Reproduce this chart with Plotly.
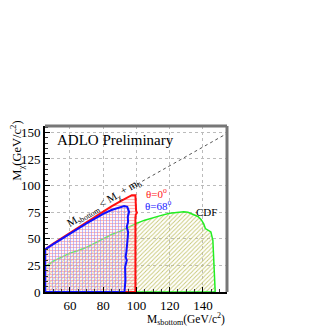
import plotly.graph_objects as go

# CDF excluded region (green)
cdf_x = [45, 45, 50, 55, 60, 65, 70, 75, 80, 85, 90, 95, 100, 105, 110, 115, 120, 125, 128.5, 131, 134.3, 137, 139, 140.5, 141.5, 144.8, 146, 146.4, 147.4, 45]
cdf_y = [0, 23.5, 29, 33, 36.5, 39, 42, 46, 50, 54, 57, 61, 64.5, 67.5, 70, 72, 74, 75.2, 75.4, 75, 73.1, 71, 68, 64, 59.6, 56.4, 48.6, 29.8, 0, 0]

# ALEPH/DELPHI/L3/OPAL combined, theta = 0 deg (red)
red_x = [45, 45, 50, 55, 60, 65, 70, 75, 80, 85, 90, 94, 97.2, 99.4, 99.4, 99.8, 100.3, 99.6, 99.4, 99.4, 45]
red_y = [0, 40, 45.5, 50.5, 56, 61, 66, 71, 76, 80.5, 85, 88.5, 91, 91, 78, 76.5, 74.5, 72.5, 70, 0, 0]

# theta = 68 deg (blue)
blue_x = [45, 45, 50, 55, 60, 65, 70, 75, 80, 85, 90, 92.6, 94.5, 95.6, 94.8, 95.0, 94.2, 95.0, 94.8, 94.5, 94.0, 93.5, 94.2, 93.2, 93.4, 92.8, 45]
blue_y = [0, 40, 45, 50, 55, 60, 64.5, 69, 73.5, 77, 79.5, 80.8, 80, 75.3, 70.6, 65.9, 61.2, 56.4, 51.7, 45, 38, 33, 29.8, 23.5, 11, 0, 0]

# kinematic limit line
kin_x = [97.2, 154.5]
kin_y = [98.5, 149]

x_ticks = [60, 80, 100, 120, 140]
y_ticks = [0, 25, 50, 75, 100, 125, 150]

SERIF = "Liberation Serif, Times New Roman, serif"

fig = go.Figure()

fig.add_trace(go.Scatter(
    x=cdf_x, y=cdf_y, mode="lines", fill="toself",
    line=dict(color="#22ee22", width=1.5),
    fillcolor="rgba(0,0,0,0)",
    fillpattern=dict(shape="/", fgcolor="#c8c878", bgcolor="rgba(0,0,0,0)",
                     size=3, solidity=0.3, fillmode="replace"),
    hoverinfo="skip", showlegend=False))

fig.add_trace(go.Scatter(
    x=red_x, y=red_y, mode="lines", fill="toself",
    line=dict(color="#ff1010", width=2),
    fillcolor="rgba(0,0,0,0)",
    fillpattern=dict(shape="-", fgcolor="#ff8c8c", bgcolor="rgba(255,228,228,0.35)",
                     size=3, solidity=0.2, fillmode="replace"),
    hoverinfo="skip", showlegend=False))

fig.add_trace(go.Scatter(
    x=blue_x, y=blue_y, mode="lines", fill="toself",
    line=dict(color="#1010ff", width=2),
    fillcolor="rgba(0,0,0,0)",
    fillpattern=dict(shape="|", fgcolor="#9090ff", bgcolor="rgba(0,0,0,0)",
                     size=3, solidity=0.2, fillmode="replace"),
    hoverinfo="skip", showlegend=False))

fig.add_trace(go.Scatter(
    x=kin_x, y=kin_y, mode="lines",
    line=dict(color="#555555", width=1, dash="dot"),
    hoverinfo="skip", showlegend=False))

fig.update_layout(
    width=327, height=327,
    margin=dict(l=37, r=108, t=118, b=43),
    paper_bgcolor="white", plot_bgcolor="white",
    font=dict(family=SERIF, size=12, color="black"),
    xaxis=dict(range=[45, 154.5], tickvals=x_ticks, showgrid=True,
               gridcolor="#bbbbbb", griddash="dot", gridwidth=1,
               showline=True, linecolor="black", linewidth=2,
               ticks="inside", ticklen=5, tickcolor="black",
               minor=dict(dtick=5, tick0=45, ticks="inside", ticklen=3, tickcolor="#333", showgrid=False),
               zeroline=False, tickfont=dict(family=SERIF, size=13)),
    yaxis=dict(range=[0, 156], tickvals=y_ticks, showgrid=True,
               gridcolor="#bbbbbb", griddash="dot", gridwidth=1,
               showline=True, linecolor="black", linewidth=2,
               ticks="inside", ticklen=5, tickcolor="black",
               minor=dict(dtick=5, ticks="inside", ticklen=3, tickcolor="#333", showgrid=False),
               zeroline=False, tickfont=dict(family=SERIF, size=13)),
)

# grey frame on top and right
fig.add_shape(type="line", xref="paper", yref="paper", x0=0, x1=1, y0=1, y1=1,
              line=dict(color="#777777", width=3))
fig.add_shape(type="line", xref="paper", yref="paper", x0=1, x1=1, y0=0, y1=1,
              line=dict(color="#777777", width=3))

fig.add_annotation(x=87.2, y=142.7, text="ADLO Preliminary", showarrow=False,
                   font=dict(family=SERIF, size=15, color="black"))
fig.add_annotation(x=112, y=92.8, text="θ=0<sup>o</sup>", showarrow=False,
                   font=dict(family=SERIF, size=11, color="#ff2020"))
fig.add_annotation(x=113, y=81.6, text="θ=68<sup>o</sup>", showarrow=False,
                   font=dict(family=SERIF, size=11, color="#2020ff"))
fig.add_annotation(x=142.3, y=74.8, text="CDF", showarrow=False,
                   font=dict(family=SERIF, size=11, color="black"))
fig.add_annotation(x=80.5, y=84, text="M<sub>sbottom</sub> &lt; M<sub>χ</sub> + m<sub>b</sub>",
                   showarrow=False, textangle=-31,
                   font=dict(family=SERIF, size=11, color="black"))

fig.add_annotation(xref="paper", yref="paper", x=1.0, y=-0.1, xanchor="right", yanchor="top",
                   text="M<sub>sbottom</sub>(GeV/c<sup>2</sup>)", showarrow=False,
                   font=dict(family=SERIF, size=11.5, color="black"))
fig.add_annotation(xref="paper", yref="paper", x=-0.155, y=0.85, xanchor="center", yanchor="middle",
                   text="M<sub>χ</sub>(GeV/c<sup>2</sup>)", showarrow=False, textangle=-90,
                   font=dict(family=SERIF, size=12.5, color="black"))

fig.write_html("out.html")
